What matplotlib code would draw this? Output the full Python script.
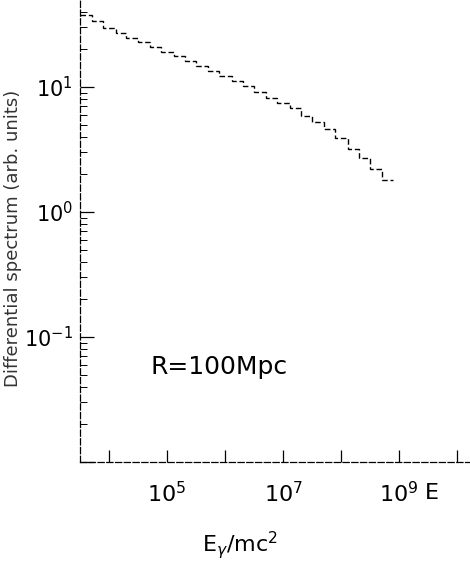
import numpy as np
import matplotlib
matplotlib.use("Agg")
import matplotlib.pyplot as plt
from matplotlib.ticker import LogLocator, FixedLocator, FixedFormatter, NullFormatter

# Photon spectrum at R = 100 Mpc
# energy bin edges in units of mc^2
energy_edges = [3.2e3, 5.0e3, 7.9e3, 1.3e4, 2.0e4, 3.2e4, 5.0e4, 7.9e4,
                1.3e5, 2.0e5, 3.2e5, 5.0e5, 7.9e5, 1.3e6, 2.0e6, 3.2e6,
                5.0e6, 7.9e6, 1.3e7, 2.0e7, 3.2e7, 5.0e7, 7.9e7, 1.3e8,
                2.0e8, 3.2e8, 5.0e8, 7.9e8]
spectrum = [38.0, 33.9, 29.5, 26.9, 24.5, 22.9, 20.9, 19.1, 17.8, 16.2,
            14.8, 13.5, 12.3, 11.2, 10.2, 9.1, 8.1, 7.4, 6.8, 5.9,
            5.2, 4.6, 3.9, 3.2, 2.7, 2.2, 1.8]

xtick_vals = [1e4, 1e5, 1e6, 1e7, 1e8, 1e9, 1e10]
xtick_labels = ["", r"$10^5$", "", r"$10^7$", "", r"$10^9$", ""]
ytick_vals = [1e-2, 1e-1, 1e0, 1e1]
ytick_labels = ["", r"$10^{-1}$", r"$10^0$", r"$10^1$"]

fig = plt.figure(figsize=(4.70, 5.79), dpi=100)
ax = fig.add_axes([80 / 470, 1 - 462 / 579, 390 / 470, 462 / 579])

ax.stairs(spectrum, energy_edges, baseline=None, color="black", lw=1.0,
          linestyle=(0, (4, 2)))

ax.set_xscale("log")
ax.set_yscale("log")
ax.set_xlim(10 ** 3.5, 10 ** 10.22)
ax.set_ylim(1e-2, 10 ** 1.696)

for side in ["top", "right"]:
    ax.spines[side].set_visible(False)
for side in ["left", "bottom"]:
    ax.spines[side].set_linewidth(0.9)
    ax.spines[side].set_linestyle((0, (5, 2)))

# x ticks: every decade, labels on odd ones
ax.xaxis.set_major_locator(FixedLocator(xtick_vals))
ax.xaxis.set_major_formatter(FixedFormatter(xtick_labels))
ax.xaxis.set_minor_locator(LogLocator(base=10, subs=np.arange(2, 10)))
ax.xaxis.set_minor_formatter(NullFormatter())

ax.yaxis.set_major_locator(FixedLocator(ytick_vals))
ax.yaxis.set_major_formatter(FixedFormatter(ytick_labels))
ax.yaxis.set_minor_locator(LogLocator(base=10, subs=np.arange(2, 10)))
ax.yaxis.set_minor_formatter(NullFormatter())

ax.tick_params(which="both", direction="in", color="black")
ax.tick_params(axis="x", which="major", length=9, width=0.9, pad=14, labelsize=16)
ax.tick_params(axis="x", which="minor", length=4, width=0.7)
ax.tick_params(axis="y", which="major", length=10, width=0.9, pad=5, labelsize=15)
ax.tick_params(axis="y", which="minor", length=5, width=0.7)

ax.text(0.18, 0.205, "R=100Mpc", transform=ax.transAxes, fontsize=18,
        ha="left", va="center")

fig.text(0.905, 1 - 493 / 579, "E", fontsize=16, ha="left", va="center")
fig.text(240 / 470, 1 - 545 / 579, r"E$_\gamma$/mc$^2$", fontsize=16,
         ha="center", va="center")
fig.text(13 / 470, 1 - 238 / 579, "Differential spectrum (arb. units)",
         rotation=90, fontsize=13, ha="center", va="center", color="#333333")

fig.savefig("out.png", dpi=100)
